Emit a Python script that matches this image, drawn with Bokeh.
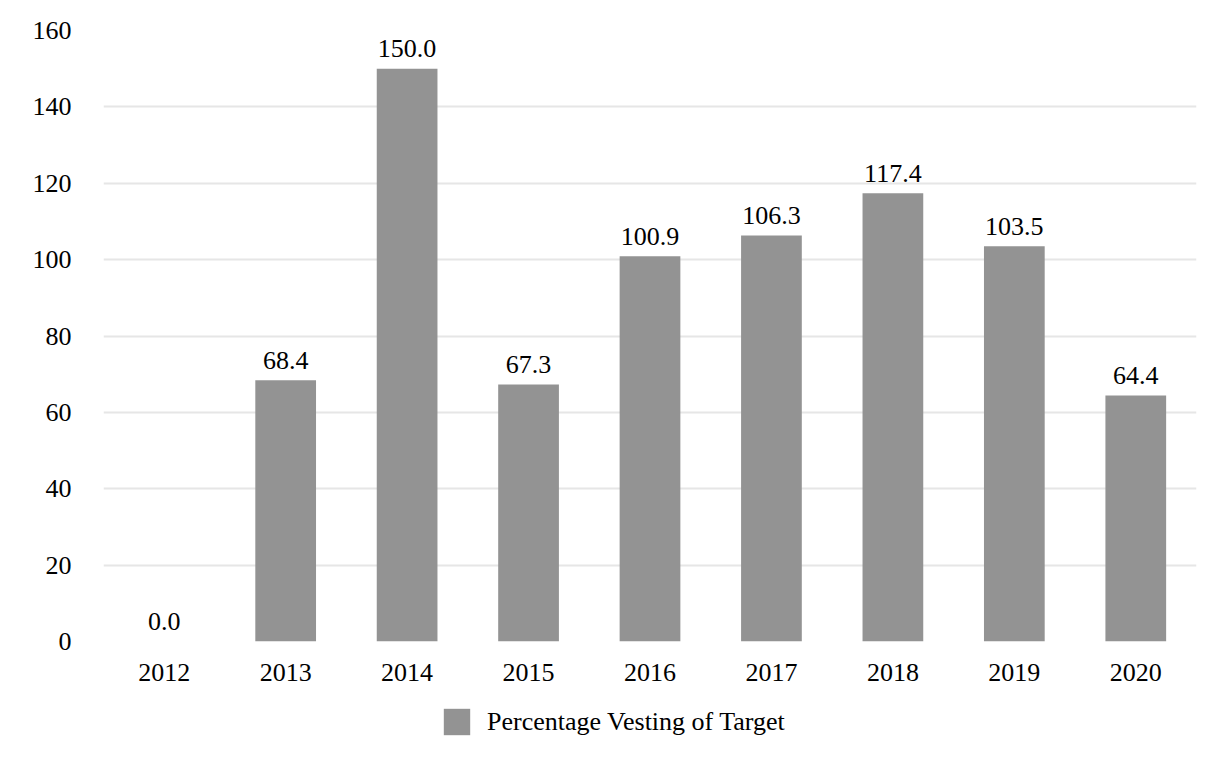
from bokeh.plotting import figure
from bokeh.layouts import column
from bokeh.models import ColumnDataSource, Legend, LegendItem, FixedTicker, Range1d, FactorRange
from bokeh.core.properties import value
from bokeh.embed import file_html
from bokeh.resources import INLINE

years = ["2012", "2013", "2014", "2015", "2016", "2017", "2018", "2019", "2020"]
vesting = [0.0, 68.4, 150.0, 67.3, 100.9, 106.3, 117.4, 103.5, 64.4]
y_ticks = [0, 20, 40, 60, 80, 100, 120, 140, 160]
series_name = "Percentage Vesting of Target"

FONT = "Liberation Serif"
FSIZE = "26px"
BAR = "#939393"

src = ColumnDataSource(dict(x=years, top=vesting, label=[f"{v:.1f}" for v in vesting]))

p = figure(x_range=FactorRange(*years, range_padding=0), y_range=Range1d(0, 160),
           width=1210, height=700, output_backend="svg", toolbar_location=None,
           min_border_left=103, min_border_right=14, min_border_top=30, min_border_bottom=59)
p.outline_line_color = None
p.background_fill_color = "white"

r = p.vbar(x="x", top="top", width=0.5, source=src, fill_color=BAR, line_color=None)
p.text(x="x", y="top", text="label", source=src, text_align="center",
       text_baseline="alphabetic", y_offset=-20, text_font=value(FONT),
       text_font_size=FSIZE, text_color="black")

p.yaxis.ticker = FixedTicker(ticks=y_ticks)
for ax in (p.xaxis, p.yaxis):
    ax.axis_line_color = None
    ax.major_tick_line_color = None
    ax.minor_tick_line_color = None
    ax.major_label_text_font = FONT
    ax.major_label_text_font_size = FSIZE
    ax.major_label_text_color = "black"
p.yaxis.major_label_standoff = 26
p.xaxis.major_label_standoff = 16

p.xgrid.grid_line_color = None
p.ygrid.grid_line_color = "#e6e6e6"
p.ygrid.grid_line_width = 2

# legend strip below the chart (its frame is aligned with the chart frame)
lg = figure(width=1210, height=50, output_backend="svg", toolbar_location=None,
            x_range=Range1d(0, 1), y_range=Range1d(0, 1),
            min_border_left=0, min_border_right=0, min_border_top=0, min_border_bottom=0)
lg.axis.visible = False
lg.grid.visible = False
lg.outline_line_color = None
dummy = lg.vbar(x=[-5], top=[-5], width=0.5, fill_color=BAR, line_color=None)
legend = Legend(items=[LegendItem(label=series_name, renderers=[dummy])],
                location=(337, 12), orientation="horizontal",
                glyph_width=33, glyph_height=33, label_standoff=14,
                label_text_font=FONT, label_text_font_size=FSIZE,
                label_text_color="black", padding=0, margin=0,
                border_line_color=None, background_fill_alpha=0)
lg.add_layout(legend, "center")

layout = column(p, lg)
open("out.html", "w").write(file_html(layout, INLINE))
